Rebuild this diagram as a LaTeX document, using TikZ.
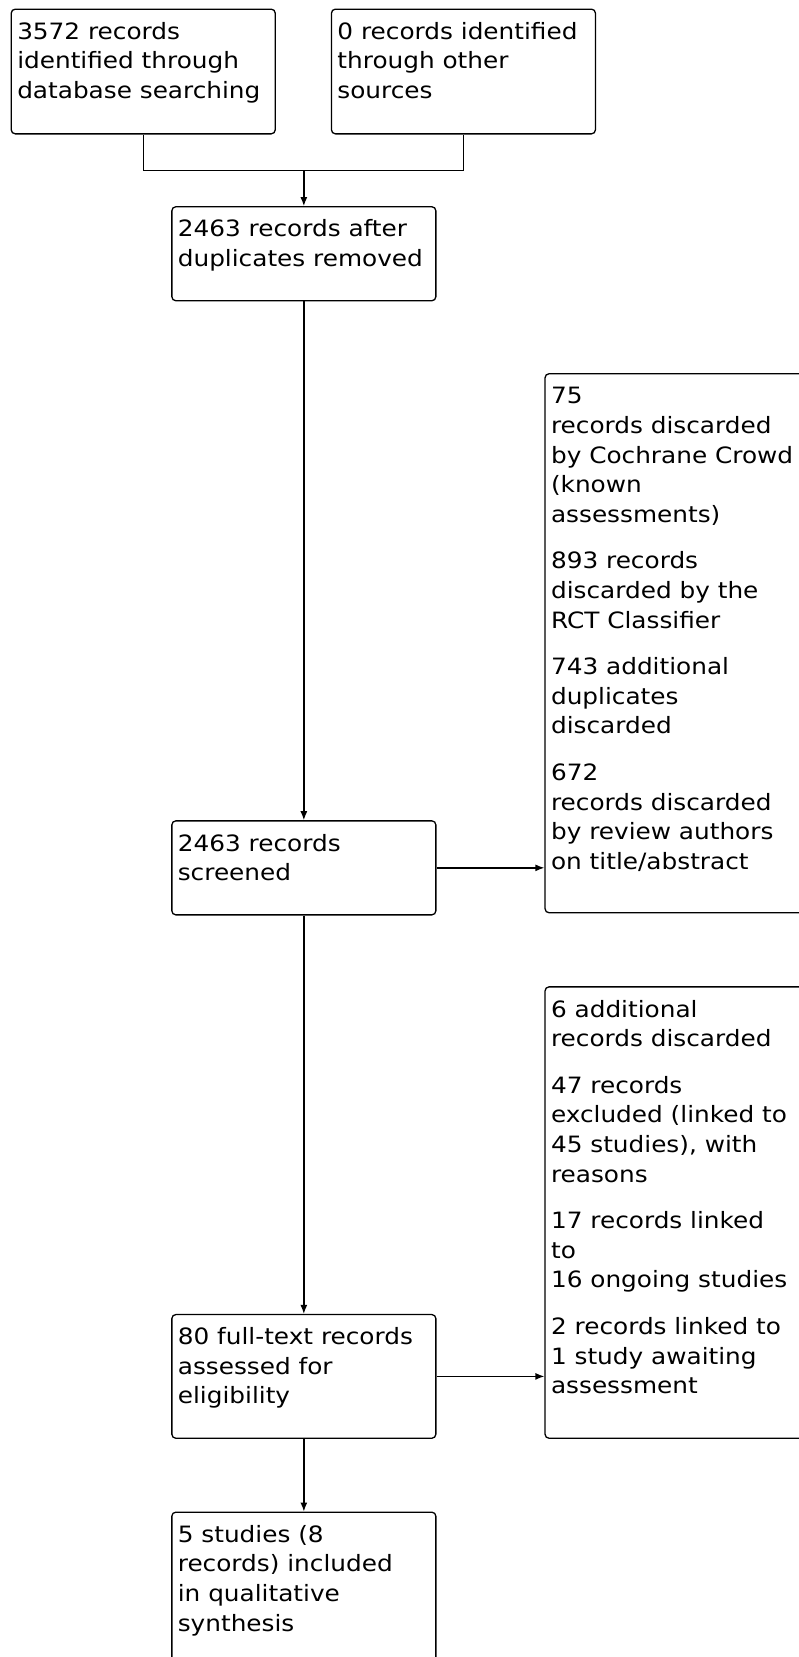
\documentclass[tikz,border=0pt]{standalone}
\usepackage{fontspec}
\setmainfont[FakeStretch=1.1]{DejaVu Sans}
\usetikzlibrary{arrows.meta}
\newcommand{\BoxText}[3]{\parbox[t][#1][t]{#2}{\raggedright\strut #3}}

\begin{document}
\begin{tikzpicture}[x=1pt, y=-1pt, >={Latex[length=9pt,width=7pt]},
  rec/.style={draw, rounded corners=4pt, anchor=north west, inner xsep=6pt,
    inner ysep=9.5pt, line width=1.3pt, font=\fontsize{22.5}{29.6}\selectfont},
  link/.style={line width=1.3pt}]

  \useasboundingbox (0,0) rectangle (798,1657);

  \newcommand\W{252pt}
  \newcommand\WR{260pt}
  \newcommand\G{17pt}

  %% identification
  \node[rec] (db) at (10.6,8.5) {\BoxText{105.7pt}{\W}{3572 records\\identified through\\database searching}};
  \node[rec] (oth) at (330.8,8.5) {\BoxText{105.7pt}{\W}{0 records identified\\through other\\sources}};

  \node[rec] (dup) at (171.2,206.1) {\BoxText{75pt}{\W}{2463 records after\\duplicates removed}};
  \coordinate (join) at (dup.north |- 0,170.2);

  %% screening
  \node[rec] (scr) at (171.2,820.2) {\BoxText{75pt}{\W}{2463 records\\screened}};
  \node[rec] (disc1) at (544.4,373.1) {\BoxText{520pt}{\WR}{75\\records discarded\\by Cochrane Crowd\\(known\\assessments)\\[\G]
    893 records\\discarded by the\\RCT Classifier\\[\G]
    743 additional\\duplicates\\discarded\\[\G]
    672\\records discarded\\by review authors\\on title/abstract}};

  %% eligibility
  \node[rec] (full) at (171.2,1313.9) {\BoxText{104.7pt}{\W}{80 full-text records\\assessed for\\eligibility}};
  \node[rec] (disc2) at (544.4,986.2) {\BoxText{432.4pt}{\WR}{6 additional\\records discarded\\[\G]
    47 records\\excluded (linked to\\45 studies), with\\reasons\\[\G]
    17 records linked\\to\\16 ongoing studies\\[\G]
    2 records linked to\\1 study awaiting\\assessment}};

  %% included
  \node[rec] (incl) at (171.2,1511.5) {\BoxText{151pt}{\W}{5 studies (8\\records) included\\in qualitative\\synthesis}};

  \draw[link] (db.south) |- (join) -| (oth.south);
  \draw[link,->] (join) -- (dup.north);
  \draw[link,->] (dup.south) -- (scr.north);
  \draw[link,->] (scr.east) -- (scr.east -| disc1.west); %% scr->disc1
  \draw[link,->] (scr.south) -- (full.north);
  \draw[link,->] (full.east) -- (full.east -| disc2.west); %% full->disc2
  \draw[link,->] (full.south) -- (incl.north);
\end{tikzpicture}
\end{document}
